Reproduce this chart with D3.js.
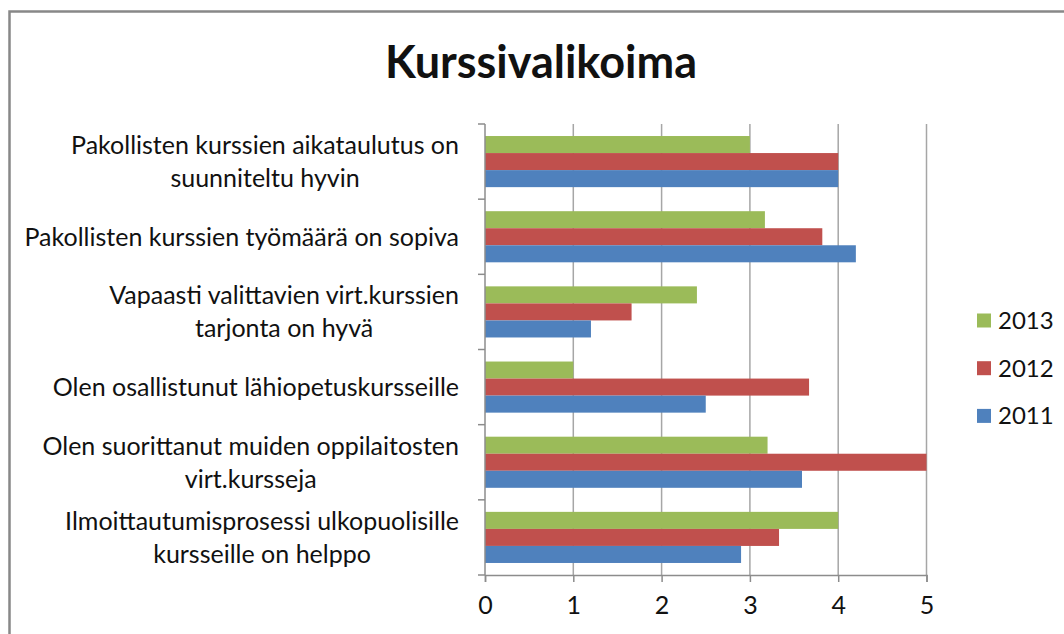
<!DOCTYPE html>
<html>
<head>
<meta charset="utf-8">
<script src="https://cdn.jsdelivr.net/npm/d3@7"></script>
<style>
  body { margin: 0; background: #fff; }
  text { font-family: Lato, "Liberation Sans", sans-serif; fill: #111; }
</style>
</head>
<body>
<div id="chart"></div>
<script>
  "use strict";

  // data
  var categories = [
    "Pakollisten kurssien aikataulutus on\nsuunniteltu hyvin",
    "Pakollisten kurssien työmäärä on sopiva",
    "Vapaasti valittavien virt.kurssien\ntarjonta on hyvä",
    "Olen osallistunut lähiopetuskursseille",
    "Olen suorittanut muiden oppilaitosten\nvirt.kursseja",
    "Ilmoittautumisprosessi ulkopuolisille\nkursseille on helppo"
  ];
  var years = ["2013", "2012", "2011"];
  var values2013 = [3.0, 3.17, 2.4, 1.0, 3.2, 4.0];
  var values2012 = [4.0, 3.82, 1.66, 3.67, 5.0, 3.33];
  var values2011 = [4.0, 4.2, 1.2, 2.5, 3.59, 2.9];
  var xTicks = [0, 1, 2, 3, 4, 5];

  var colors = { "2013": "#9BBB59", "2012": "#C0504D", "2011": "#4F81BD" };
  var seriesValues = { "2013": values2013, "2012": values2012, "2011": values2011 };

  var width = 1064, height = 634;
  var plot = { left: 485, right: 926.5, top: 124, bottom: 575 };

  var svg = d3.select("#chart").append("svg")
    .attr("width", width)
    .attr("height", height);

  // chart frame
  svg.append("rect")
    .attr("x", 9.5).attr("y", 11.5)
    .attr("width", width + 20).attr("height", height + 20)
    .attr("fill", "#fff")
    .attr("stroke", "#888")
    .attr("stroke-width", 2.5);

  // scales
  var x = d3.scaleLinear().domain([0, 5]).range([plot.left, plot.right]);
  var y = d3.scaleBand().domain(categories).range([plot.top, plot.bottom])
    .paddingInner(0.32).paddingOuter(0.16);
  var yInner = d3.scaleBand().domain(years).range([0, y.bandwidth()]);

  // vertical gridlines
  svg.append("g").selectAll("line")
    .data(xTicks.slice(1))
    .enter().append("line")
      .attr("x1", function(d) { return x(d); })
      .attr("x2", function(d) { return x(d); })
      .attr("y1", plot.top)
      .attr("y2", plot.bottom)
      .attr("stroke", "#a6a6a6")
      .attr("stroke-width", 1.5);

  // bars
  var rows = [];
  categories.forEach(function(c, i) {
    years.forEach(function(yr) {
      rows.push({ cat: c, year: yr, value: seriesValues[yr][i] });
    });
  });

  svg.append("g").selectAll("rect")
    .data(rows)
    .enter().append("rect")
      .attr("x", x(0))
      .attr("y", function(d) { return y(d.cat) + yInner(d.year); })
      .attr("width", function(d) { return x(d.value) - x(0); })
      .attr("height", yInner.bandwidth())
      .attr("fill", function(d) { return colors[d.year]; });

  // x axis
  var xAxis = d3.axisBottom(x).tickValues(xTicks).tickSize(7).tickPadding(14).tickFormat(d3.format("d"));
  var gx = svg.append("g")
    .attr("transform", "translate(0," + plot.bottom + ")")
    .call(xAxis);
  gx.select(".domain").attr("stroke", "#8c8c8c").attr("stroke-width", 1.5);
  gx.selectAll(".tick line").attr("stroke", "#8c8c8c").attr("stroke-width", 1.5);
  gx.selectAll(".tick text").style("font-size", "25px").attr("fill", "#111");

  // y axis line with tick marks between categories
  svg.append("line")
    .attr("x1", plot.left).attr("x2", plot.left)
    .attr("y1", plot.top).attr("y2", plot.bottom)
    .attr("stroke", "#8c8c8c").attr("stroke-width", 1.5);
  var boundaries = categories.map(function(c) { return y(c) - y.step() * y.paddingInner() / 2; });
  boundaries.push(plot.bottom);
  svg.append("g").selectAll("line")
    .data(boundaries)
    .enter().append("line")
      .attr("x1", plot.left - 7).attr("x2", plot.left)
      .attr("y1", function(d) { return d; })
      .attr("y2", function(d) { return d; })
      .attr("stroke", "#8c8c8c").attr("stroke-width", 1.5);

  // category labels: block right aligned, lines centered
  var lineH = 33;
  categories.forEach(function(c) {
    var lines = c.split("\n");
    var cy = y(c) + y.bandwidth() / 2;
    var t = svg.append("text")
      .style("font-size", "25px")
      .attr("text-anchor", "middle");
    lines.forEach(function(l, i) {
      t.append("tspan")
        .attr("y", cy + (i - (lines.length - 1) / 2) * lineH)
        .attr("dy", "0.35em")
        .text(l);
    });
    var maxW = 0;
    t.selectAll("tspan").each(function() {
      maxW = Math.max(maxW, this.getComputedTextLength());
    });
    t.selectAll("tspan").attr("x", 459 - maxW / 2);
  });

  // title
  svg.append("text")
    .attr("x", 541)
    .attr("y", 62)
    .attr("dy", "0.35em")
    .attr("text-anchor", "middle")
    .style("font-size", "45px")
    .style("font-weight", "bold")
    .text("Kurssivalikoima");

  // legend
  var legend = svg.append("g").selectAll("g")
    .data(years)
    .enter().append("g")
      .attr("transform", function(d, i) { return "translate(977," + (320.5 + i * 47.7) + ")"; });
  legend.append("rect")
    .attr("x", 0).attr("y", -7)
    .attr("width", 14).attr("height", 14)
    .attr("fill", function(d) { return colors[d]; });
  legend.append("text")
    .attr("x", 21)
    .attr("dy", "0.35em")
    .style("font-size", "24px")
    .text(function(d) { return d; });
</script>
</body>
</html>
